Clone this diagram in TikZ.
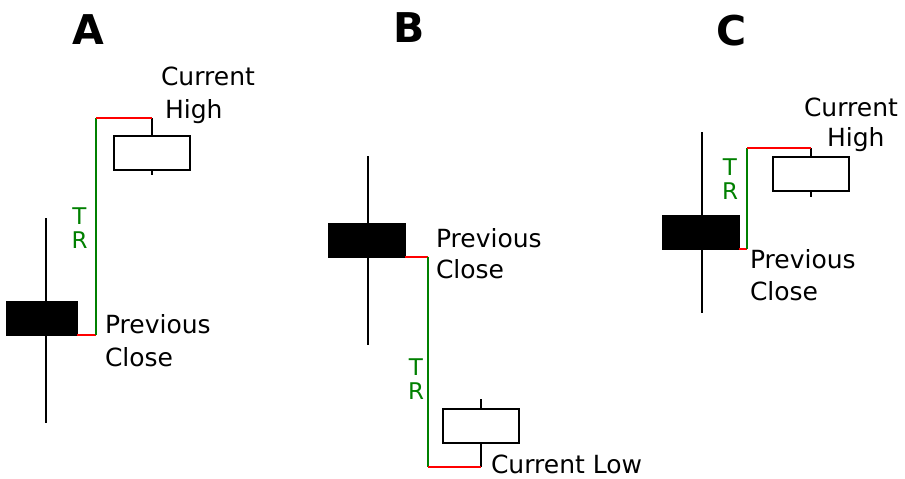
\documentclass[tikz,border=0pt]{standalone}
\usepackage{fontspec}
\setmainfont{DejaVu Sans}
\definecolor{trgreen}{RGB}{0,128,0}

\begin{document}
\begin{tikzpicture}[x=1pt, y=-1pt, line width=2pt,
  prevbar/.style={draw, fill=black, minimum width=76pt, minimum height=33pt, inner sep=0, outer sep=0},
  curbar/.style={draw, fill=white, minimum width=76pt, minimum height=34pt, inner sep=0, outer sep=0},
  lbl/.style={anchor=base west, inner sep=0, font=\fontsize{25}{30}\selectfont},
  trlbl/.style={text=trgreen, align=center, inner sep=0, font=\fontsize{23}{24}\selectfont},
  head/.style={anchor=base, inner sep=0, font=\fontsize{41}{41}\selectfont\bfseries}]

\useasboundingbox (0,0) rectangle (905,479);

% A
\node[head] (hA) at (88,44) {A};

\coordinate (wtA) at (46,218);
\coordinate (wbA) at (46,423);
\draw (wtA) to (wbA);
\node[prevbar, minimum width=70pt] (prevA) at (42,318.5) {};

\node[curbar] (curA) at (152,153) {};
\coordinate (hiA) at (152,118);
\coordinate (loA) at (152,175);
\draw (curA.north) to (hiA);
\draw (curA.south) to (loA);

\coordinate (trtA) at (96,118);
\coordinate (trbA) at (prevA.south east -| trtA);
\draw[red] (prevA.south east) to (trbA);
\draw[trgreen] (trbA) to (trtA);
\draw[red] (trtA) to (hiA);

\node[trlbl] (trA) at (79.5,228) {T\\R};
\node[lbl] (chA1) at (160,85) {Current};
\node[lbl] (chA2) at (164,118) {High};
\node[lbl] (pcA1) at (104,333) {Previous};
\node[lbl] (pcA2) at (104,366) {Close};

% B
\node[head] (hB) at (409,42) {B};

\coordinate (wtB) at (368,156);
\coordinate (wbB) at (368,345);
\draw (wtB) to (wbB);
\node[prevbar] (prevB) at (367,240) {};

\node[curbar] (curB) at (480.5,425.5) {};
\coordinate (hiB) at (480.5,399);
\coordinate (loB) at (480.5,467);
\draw (curB.north) to (hiB);
\draw (curB.south) to (loB);

\coordinate (trbB) at (428,467);
\coordinate (trtB) at (prevB.south east -| trbB);
\draw[red] (prevB.south east) to (trtB);
\draw[trgreen] (trtB) to (trbB);
\draw[red] (trbB) to (loB);

\node[trlbl] (trB) at (416,379.5) {T\\R};
\node[lbl] (pcB1) at (435,247) {Previous};
\node[lbl] (pcB2) at (435,278) {Close};
\node[lbl] (clB) at (490,473) {Current Low};

% C
\node[head] (hC) at (732,45) {C};

\coordinate (wtC) at (702,132);
\coordinate (wbC) at (702,313);
\draw (wtC) to (wbC);
\node[prevbar] (prevC) at (701,232.5) {};

\node[curbar] (curC) at (811,173.5) {};
\coordinate (hiC) at (811,148);
\coordinate (loC) at (811,197);
\draw (curC.north) to (hiC);
\draw (curC.south) to (loC);

\coordinate (trtC) at (747,148);
\coordinate (trbC) at (prevC.south east -| trtC);
\draw[red] (prevC.south east) to (trbC);
\draw[trgreen] (trbC) to (trtC);
\draw[red] (trtC) to (hiC);

\node[trlbl] (trC) at (730,179.5) {T\\R};
\node[lbl] (chC1) at (803,116) {Current};
\node[lbl] (chC2) at (826,146) {High};
\node[lbl] (pcC1) at (749,268) {Previous};
\node[lbl] (pcC2) at (749,300) {Close};

\end{tikzpicture}
\end{document}
